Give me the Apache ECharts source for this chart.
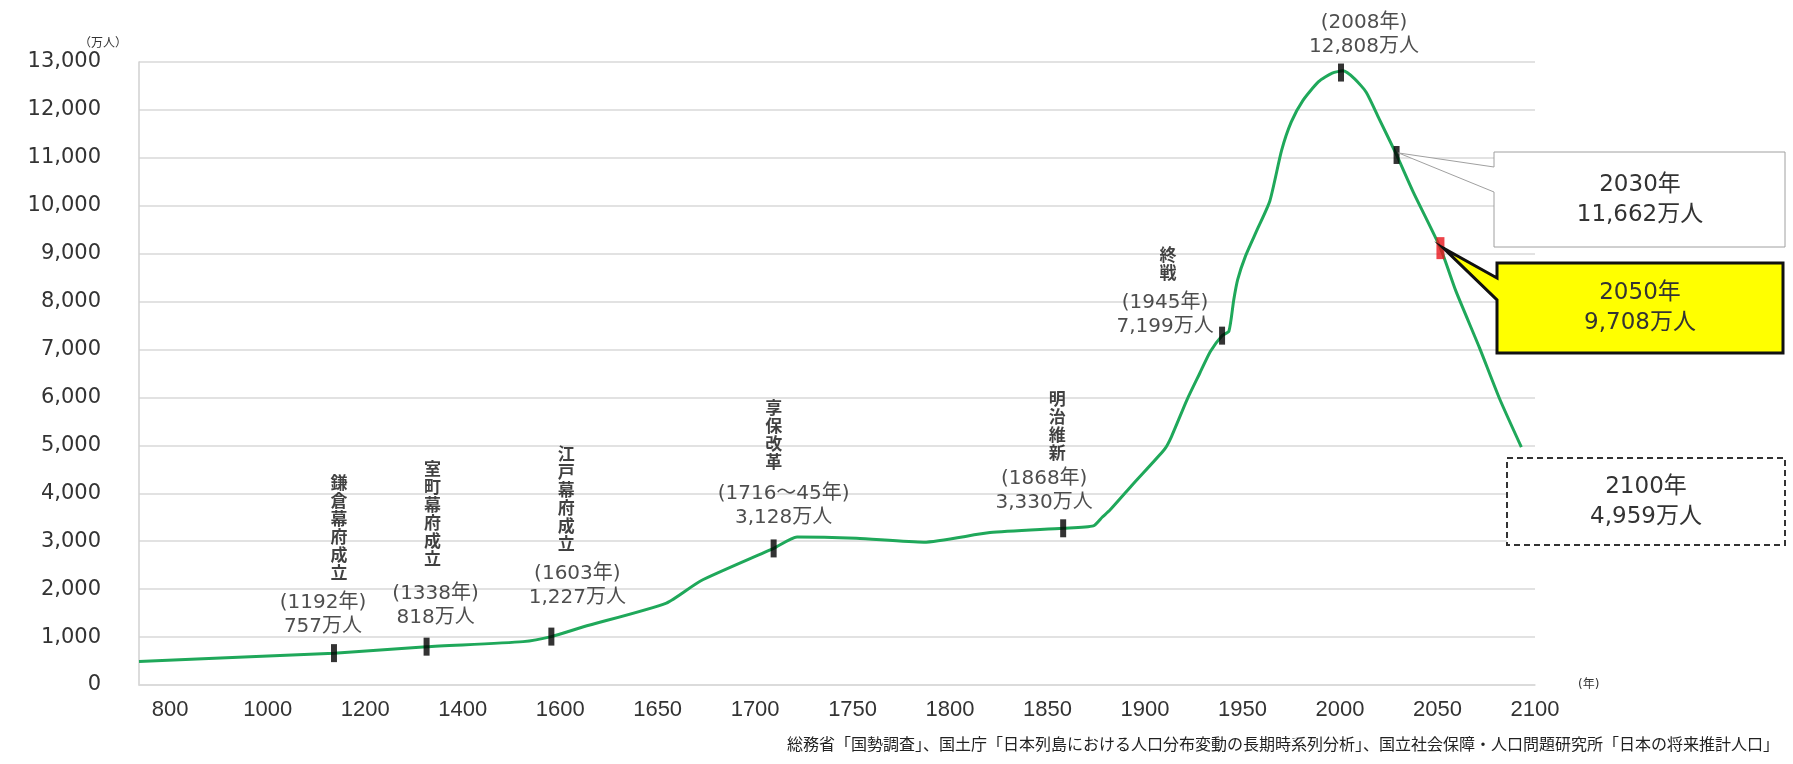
<!DOCTYPE html>
<html>
<head>
<meta charset="utf-8">
<script src="https://cdn.jsdelivr.net/npm/echarts@6/dist/echarts.min.js"></script>
<style>
html, body { margin: 0; padding: 0; background: #fff; }
#main { width: 1793px; height: 764px; }
</style>
</head>
<body>
<div id="main"></div>
<script>
// x axis is an index axis: each tick label sits at an integer position
var yearLabels = ['800', '1000', '1200', '1400', '1600', '1650', '1700', '1750',
                  '1800', '1850', '1900', '1950', '2000', '2050', '2100'];

// population curve (万人), positions in tick units
var curvePos = [-0.32, 0.82, 1.68, 2.63, 3.62, 3.91, 4.24, 5.09, 5.44, 6.19, 6.43, 7.04, 7.73, 8.41,
                9.16, 9.47, 9.56, 9.64, 9.88, 10.2, 10.27, 10.43, 10.56, 10.67, 10.79, 10.86, 10.91,
                10.95, 11.03, 11.15, 11.28, 11.4, 11.5, 11.62, 11.78, 11.92, 12.03, 12.15, 12.27,
                12.4, 12.58, 12.75, 13.03, 13.19, 13.43, 13.64, 13.86];
var curvePop = [490, 590, 665, 800, 905, 1010, 1215, 1710, 2170, 2850, 3090, 3060, 2980, 3180,
                3270, 3320, 3500, 3650, 4200, 4920, 5180, 5950, 6500, 6960, 7290, 7380, 8040,
                8460, 8950, 9500, 10100, 11150, 11750, 12200, 12590, 12770, 12815, 12650, 12365,
                11820, 11060, 10290, 9116, 8213, 7040, 5957, 4964];

// historical events
var eventNames  = ['鎌倉幕府成立', '室町幕府成立', '江戸幕府成立', '享保改革', '明治維新', '終戦', ''];
var eventYears  = ['(1192年)', '(1338年)', '(1603年)', '(1716～45年)', '(1868年)', '(1945年)', '(2008年)'];
var eventValues = ['757万人', '818万人', '1,227万人', '3,128万人', '3,330万人', '7,199万人', '12,808万人'];
var eventPos    = [1.68, 2.63, 3.91, 6.19, 9.16, 10.79, 12.01];
var eventPop    = [665, 800, 1010, 2850, 3270, 7290, 12780];

// projections
var projYears  = ['2030年', '2050年', '2100年'];
var projValues = ['11,662万人', '9,708万人', '4,959万人'];
var projPos    = [12.58, 13.03, 13.86];
var projPop    = [11060, 9116, 4964];

var FONT = "'DejaVu Sans', 'Noto Sans CJK JP', sans-serif";

// label placement tweaks: [dx, dy, vertical-name shift, gap]
var labelTweak = [[-11, -5, 16, 8], [9, -8, -3, 12], [26, -18, -11, 7], [10, -10, -10, 9],
                  [-19, -4, 13, 4], [-57, 12, 3, 7], [23, -5, 0, 0]];

var eventData = eventPos.map(function (p, i) {
  var t = labelTweak[i];
  var txt = '';
  if (eventNames[i]) {
    txt += '{v|' + eventNames[i].split('').join('\n') + '}\n{g| }\n';
  }
  txt += '{p|' + eventYears[i] + '}\n{p|' + eventValues[i] + '}';
  var pad = t[2] >= 0 ? [0, 0, 0, t[2] * 2] : [0, -t[2] * 2, 0, 0];
  return {
    value: [p, eventPop[i]],
    label: {
      show: true,
      position: 'top',
      distance: 0,
      offset: [t[0], t[1]],
      formatter: txt,
      rich: {
        v: { fontFamily: FONT, fontSize: 17, fontWeight: 'bold', lineHeight: 18, color: '#111', padding: pad },
        g: { fontSize: 4, lineHeight: t[3] },
        p: { fontFamily: FONT, fontSize: 20, lineHeight: 24, color: '#222' }
      }
    }
  };
});

var chart = echarts.init(document.getElementById('main'));

chart.setOption({
  animation: false,
  backgroundColor: '#fff',
  title: {
    text: '総務省「国勢調査」、国土庁「日本列島における人口分布変動の長期時系列分析」、国立社会保障・人口問題研究所「日本の将来推計人口」',
    right: 9,
    top: 731,
    textStyle: { fontFamily: "'Noto Sans CJK JP', sans-serif", fontSize: 16, fontWeight: 'normal', color: '#222' }
  },
  grid: { left: 139, right: 258, top: 62, bottom: 79 },
  xAxis: {
    type: 'value',
    min: -0.32,
    max: 14,
    name: '(年)',
    nameLocation: 'end',
    nameGap: 43,
    nameTextStyle: { fontFamily: FONT, fontSize: 12, color: '#333', padding: [10, 0, 0, 0] },
    axisLine: { lineStyle: { color: '#d9d9d9', width: 1.5 } },
    axisTick: { show: false },
    splitLine: { show: false },
    axisLabel: {
      customValues: yearLabels.map(function (s, i) { return i; }),
      formatter: function (v) { return yearLabels[Math.round(v)]; },
      margin: 14,
      fontFamily: "'Liberation Sans', sans-serif",
      fontSize: 22,
      color: '#333'
    }
  },
  yAxis: {
    type: 'value',
    min: 0,
    max: 13000,
    interval: 1000,
    name: '（万人）',
    nameLocation: 'end',
    nameGap: 12,
    nameTextStyle: { fontFamily: FONT, fontSize: 12, color: '#333', align: 'right', padding: [0, 12, 0, 0] },
    axisLine: { show: true, onZero: false, lineStyle: { color: '#d0d0d0', width: 1.5 } },
    axisTick: { show: false },
    splitLine: { lineStyle: { color: '#d9d9d9', width: 1.5 } },
    axisLabel: { margin: 38, fontFamily: FONT, fontSize: 21, color: '#333' }
  },
  series: [
    {
      type: 'line',
      data: curvePos.map(function (p, i) { return [p, curvePop[i]]; }),
      showSymbol: false,
      smooth: 0.2,
      lineStyle: { color: '#1fa85a', width: 3, join: 'round' },
      z: 2
    },
    {
      type: 'scatter',
      data: eventData,
      symbol: 'rect',
      symbolSize: [6, 18],
      itemStyle: { color: '#000' },
      z: 3
    },
    {
      type: 'scatter',
      data: [[projPos[0], projPop[0]]],
      symbol: 'rect',
      symbolSize: [6, 18],
      itemStyle: { color: '#000' },
      z: 3
    },
    {
      type: 'scatter',
      data: [[projPos[1], projPop[1]]],
      symbol: 'rect',
      symbolSize: [8, 22],
      itemStyle: { color: '#e8141c' },
      z: 3
    }
  ]
});

// callout boxes for projections, tips anchored on the plotted points
var tip30 = chart.convertToPixel({ gridIndex: 0 }, [projPos[0], projPop[0]]);
var tip50 = chart.convertToPixel({ gridIndex: 0 }, [projPos[1], projPop[1]]);

function callout(l, t, r, b, w1, w2, tip) {
  return [[l, t], [r, t], [r, b], [l, b], [l, w2], tip, [l, w1]];
}
function boxText(cx, cy, i) {
  return {
    type: 'text', x: cx, y: cy, z: 101,
    style: {
      text: projYears[i] + '\n' + projValues[i],
      fontFamily: FONT, fontSize: 23, lineHeight: 30,
      fill: '#333', align: 'center', verticalAlign: 'middle'
    }
  };
}

chart.setOption({
  graphic: [
    {
      type: 'polygon', z: 100,
      shape: { points: callout(1494, 152, 1785, 247, 167, 192, [tip30[0] + 2, tip30[1] - 2]) },
      style: { fill: '#fff', stroke: '#a0a0a0', lineWidth: 1 }
    },
    boxText(1640, 200, 0),
    {
      type: 'polygon', z: 100,
      shape: { points: callout(1497, 263, 1783, 353, 278, 300, [tip50[0] + 3, tip50[1]]) },
      style: { fill: '#ffff00', stroke: '#111', lineWidth: 3, lineJoin: 'miter' }
    },
    boxText(1640, 308, 1),
    {
      type: 'rect', z: 100,
      shape: { x: 1507, y: 458, width: 278, height: 87 },
      style: { fill: '#fff', stroke: '#333', lineWidth: 2, lineDash: [6, 4] }
    },
    boxText(1646, 502, 2)
  ]
});
</script>
</body>
</html>
